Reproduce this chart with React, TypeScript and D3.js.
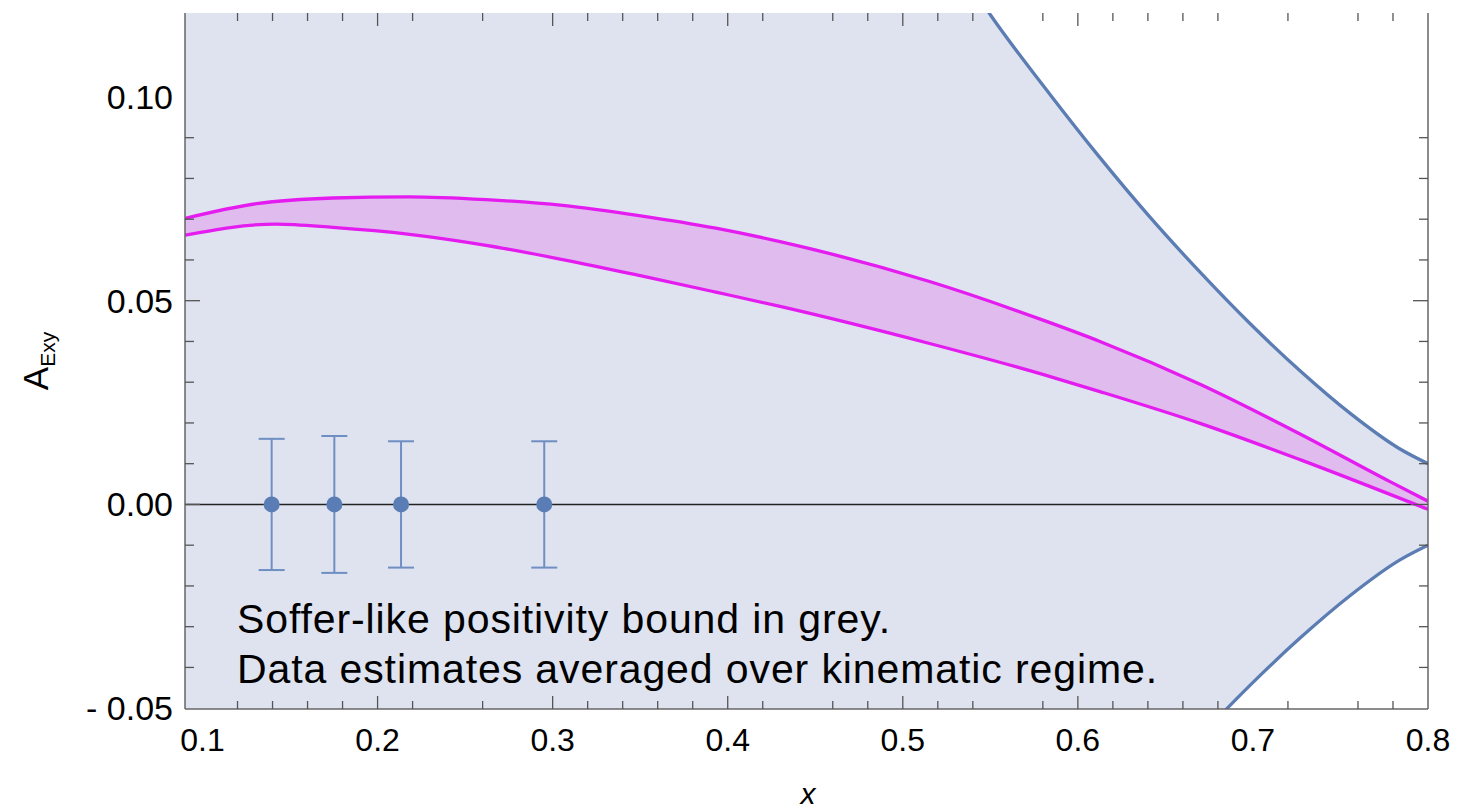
import React from "react";
import * as d3 from "d3";

// positivity bound (upper half, mirrored below)
const BOUND_X = [0.52, 0.5498, 0.5841, 0.6126, 0.6412, 0.6698, 0.6983, 0.7269, 0.7554, 0.784, 0.8];
const BOUND_Y = [0.14, 0.1203, 0.1006, 0.0851, 0.0705, 0.0570, 0.0444, 0.0328, 0.0224, 0.0136, 0.01];

// model band
const BAND_HI_X = [0.09, 0.1308, 0.1745, 0.2183, 0.262, 0.3057, 0.3494, 0.3932, 0.4299, 0.5153, 0.5809, 0.6126, 0.6698, 0.7269, 0.7783, 0.8];
const BAND_HI_Y = [0.0702, 0.0738, 0.0752, 0.0755, 0.0748, 0.0734, 0.0709, 0.0678, 0.0645, 0.0547, 0.0451, 0.04, 0.0295, 0.0173, 0.0056, 0.0008];
const BAND_LO_X = [0.09, 0.1418, 0.1745, 0.2183, 0.262, 0.3057, 0.3494, 0.3932, 0.4299, 0.5153, 0.5809, 0.6126, 0.6698, 0.7269, 0.8];
const BAND_LO_Y = [0.0661, 0.0688, 0.068, 0.0663, 0.0636, 0.0601, 0.0562, 0.0521, 0.0486, 0.0395, 0.0318, 0.0277, 0.0199, 0.011, -0.0012];

// data estimates
const PT_X = [0.1395, 0.1753, 0.2134, 0.2952];
const PT_Y = [0, 0, 0, 0];
const PT_ERR = [0.0161, 0.0168, 0.0155, 0.0155];

// ticks
const X_LABELS = [0.1, 0.2, 0.3, 0.4, 0.5, 0.6, 0.7, 0.8];
const X_MAJOR = [0.2, 0.3, 0.4, 0.5, 0.6];
const X_MINOR = [0.12, 0.14, 0.16, 0.18, 0.22, 0.26, 0.32, 0.34, 0.36, 0.38, 0.42, 0.46, 0.48, 0.52, 0.54, 0.58, 0.62, 0.64, 0.66, 0.68, 0.72, 0.76, 0.78];
const Y_LABELS = [0.1, 0.05, 0, -0.05];
const Y_LABEL_TEXT = ["0.10", "0.05", "0.00", "- 0.05"];
const Y_MAJOR = [0, 0.05];
const Y_MINOR = [-0.04, -0.03, -0.02, -0.01, 0.01, 0.02, 0.03, 0.04, 0.06, 0.07, 0.08, 0.09];

const NOTE = ["Soffer-like positivity bound in grey.", "Data estimates averaged over kinematic regime."];

const FONT = "'Liberation Sans', Arial, Helvetica, sans-serif";
const FILL = "#dee3ef";
const BLUE = "#5b7db3";
const MAGENTA = "#e41cf0";
const BAND = "#dfbbee";
const FRAME = "#666";

export default function App() {
  const W = 1459, H = 810;
  const L = 185, R = 1428, T = 13, B = 709;
  const x = d3.scaleLinear().domain([0.09, 0.8]).range([L, R]);
  const y = d3.scaleLinear().domain([-0.0502, 0.1206]).range([B, T]);

  const bound = BOUND_X.map((v, i) => ({ x: v, y: BOUND_Y[i] }));
  const hi = BAND_HI_X.map((v, i) => ({ x: v, y: BAND_HI_Y[i] }));
  const lo = BAND_LO_X.map((v, i) => ({ x: v, y: BAND_LO_Y[i] }));

  const line = d3.line<{ x: number; y: number }>().x((d) => x(d.x)).y((d) => y(d.y)).curve(d3.curveMonotoneX);
  const lineNeg = d3.line<{ x: number; y: number }>().x((d) => x(d.x)).y((d) => y(-d.y)).curve(d3.curveMonotoneX);
  const boundArea = d3.area<{ x: number; y: number }>()
    .x((d) => x(d.x)).y0((d) => y(-d.y)).y1((d) => y(d.y)).curve(d3.curveMonotoneX);

  // band polygon: upper forward, lower backward
  const bandPath = (line(hi) || "") + "L" + (line(lo.slice().reverse()) || "").slice(1) + "Z";

  return (
    <svg width={W} height={H} style={{ position: "absolute", left: 0, top: 0, background: "#fff" }} fontFamily={FONT}>
      <defs>
        <clipPath id="plot">
          <rect x={L} y={T} width={R - L} height={B - T} />
        </clipPath>
      </defs>
      <g clipPath="url(#plot)">
        <rect x={L} y={T} width={x(0.53) - L} height={B - T} fill={FILL} />
        <path d={boundArea(bound) || ""} fill={FILL} />
        <path d={line(bound) || ""} fill="none" stroke={BLUE} strokeWidth={3.3} />
        <path d={lineNeg(bound) || ""} fill="none" stroke={BLUE} strokeWidth={3.3} />
        <line x1={L} x2={R} y1={y(0)} y2={y(0)} stroke="#222" strokeWidth={1.5} />
        <path d={bandPath} fill={BAND} stroke="none" />
        <path d={line(hi) || ""} fill="none" stroke={MAGENTA} strokeWidth={3.3} />
        <path d={line(lo) || ""} fill="none" stroke={MAGENTA} strokeWidth={3.3} />
        {PT_X.map((v, i) => (
          <g key={i} stroke="#6f8fc3" strokeWidth={2}>
            <line x1={x(v)} x2={x(v)} y1={y(PT_Y[i] + PT_ERR[i])} y2={y(PT_Y[i] - PT_ERR[i])} />
            <line x1={x(v) - 13} x2={x(v) + 13} y1={y(PT_Y[i] + PT_ERR[i])} y2={y(PT_Y[i] + PT_ERR[i])} />
            <line x1={x(v) - 13} x2={x(v) + 13} y1={y(PT_Y[i] - PT_ERR[i])} y2={y(PT_Y[i] - PT_ERR[i])} />
          </g>
        ))}
        {PT_X.map((v, i) => (
          <circle key={"p" + i} cx={x(v)} cy={y(PT_Y[i])} r={8} fill="#5a7db5" />
        ))}
      </g>

      {NOTE.map((t, i) => (
        <text key={t} x={237} y={633 + i * 50} fontSize={41} letterSpacing={0.9} fill="#000">{t}</text>
      ))}

      {/* frame */}
      <g stroke={FRAME} strokeWidth={1.5} fill="none">
        <line x1={L} x2={L} y1={T} y2={B} />
        <line x1={R} x2={R} y1={T} y2={B} />
        <line x1={L} x2={R} y1={B} y2={B} />
      </g>
      <g stroke="#555" strokeWidth={1.3}>
        {X_MAJOR.map((v) => (
          <g key={"xM" + v}>
            <line x1={x(v)} x2={x(v)} y1={B} y2={B - 13} />
            <line x1={x(v)} x2={x(v)} y1={T} y2={T + 13} />
          </g>
        ))}
        {X_MINOR.map((v) => (
          <g key={"xm" + v}>
            <line x1={x(v)} x2={x(v)} y1={B} y2={B - 8} />
            <line x1={x(v)} x2={x(v)} y1={T} y2={T + 8} />
          </g>
        ))}
        {Y_MAJOR.map((v) => (
          <g key={"yM" + v}>
            <line x1={L} x2={L + 15} y1={y(v)} y2={y(v)} />
            <line x1={R} x2={R - 15} y1={y(v)} y2={y(v)} />
          </g>
        ))}
        {Y_MINOR.map((v) => (
          <g key={"ym" + v}>
            <line x1={L} x2={L + 9} y1={y(v)} y2={y(v)} />
            <line x1={R} x2={R - 9} y1={y(v)} y2={y(v)} />
          </g>
        ))}
      </g>

      {X_LABELS.map((v) => (
        <text key={"xl" + v} x={x(v)} y={751} fontSize={32} textAnchor="middle" fill="#000">{d3.format(".1f")(v)}</text>
      ))}
      {Y_LABELS.map((v, i) => (
        <text key={"yl" + v} x={173} y={y(v)} fontSize={34} textAnchor="end" dominantBaseline="central" fill="#000">{Y_LABEL_TEXT[i]}</text>
      ))}

      <text x={808} y={804} fontSize={30} fontStyle="italic" textAnchor="middle" fill="#000">x</text>
      <text transform={`translate(48, ${(T + B) / 2}) rotate(-90)`} textAnchor="middle" fill="#000">
        <tspan fontSize={35}>A</tspan>
        <tspan fontSize={21} dy={7}>Exy</tspan>
      </text>
    </svg>
  );
}
